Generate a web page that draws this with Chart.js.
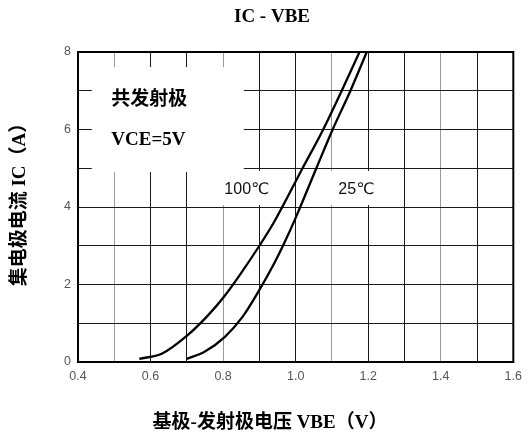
<!DOCTYPE html>
<html>
<head>
<meta charset="utf-8">
<title>IC - VBE</title>
<script src="https://cdn.jsdelivr.net/npm/chart.js@4.4.1/dist/chart.umd.min.js"></script>
<style>
  html, body { margin: 0; padding: 0; background: #fff; }
  #wrap { width: 529px; height: 448px; }
</style>
</head>
<body>
<div id="wrap"><canvas id="ic-vbe" width="529" height="448"></canvas></div>
<script>
// ── DATA ──────────────────────────────────────────────────────────
const vbe100 = [0.569, 0.632, 0.703, 0.759, 0.803, 0.850, 0.900, 0.941, 1.019, 1.076, 1.127, 1.176];
const ic100  = [0.08, 0.22, 0.70, 1.21, 1.69, 2.30, 3.00, 3.62, 5.0, 6.0, 7.0, 8.0];
const vbe25  = [0.700, 0.750, 0.805, 0.854, 0.900, 0.941, 0.968, 1.000, 1.057, 1.102, 1.151, 1.196];
const ic25   = [0.08, 0.27, 0.65, 1.17, 1.86, 2.55, 3.06, 3.72, 5.0, 6.0, 7.0, 8.0];
const seriesLabels = ['100℃', '25℃'];
const xTickLabels = ['0.4', '0.6', '0.8', '1.0', '1.2', '1.4', '1.6'];
const yTickLabels = ['0', '2', '4', '6', '8'];

const SERIF = "'Liberation Serif', 'Noto Sans CJK SC', serif";
const SANS  = "'Liberation Sans', 'DejaVu Sans', sans-serif";

const toPoints = (xs, ys) => xs.map((v, i) => ({ x: v, y: ys[i] }));

// ── NOTES / TITLES (drawn on the chart canvas) ───────────────────
const notesPlugin = {
  id: 'notes',
  beforeDatasetsDraw(chart) {
    const { ctx, scales: { x, y } } = chart;
    // white patches behind the text, in data units [x0, x1, yTop, yBottom]
    const boxes = [[0.438, 0.857, 7.61, 4.90], [0.735, 0.978, 4.93, 4.05], [1.031, 1.276, 4.93, 4.05]];
    ctx.save();
    ctx.fillStyle = '#fff';
    boxes.forEach(b => {
      const l = x.getPixelForValue(b[0]), r = x.getPixelForValue(b[1]);
      const t = y.getPixelForValue(b[2]), btm = y.getPixelForValue(b[3]);
      ctx.fillRect(l, t, r - l, btm - t);
    });
    ctx.restore();
  },
  afterDatasetsDraw(chart) {
    const { ctx, chartArea: a, scales: { x, y } } = chart;
    ctx.save();
    ctx.fillStyle = '#000';
    ctx.textBaseline = 'middle';
    ctx.textAlign = 'left';
    ctx.font = `bold 19px ${SERIF}`;
    ctx.fillText('共发射极', x.getPixelForValue(0.492), y.getPixelForValue(6.77));
    ctx.fillText('VCE=5V', x.getPixelForValue(0.492), y.getPixelForValue(5.73));

    ctx.textAlign = 'center';
    ctx.font = `16px ${SANS}`;
    ctx.fillStyle = '#111';
    ctx.fillText(seriesLabels[0], x.getPixelForValue(0.865), y.getPixelForValue(4.46));
    ctx.fillText(seriesLabels[1], x.getPixelForValue(1.167), y.getPixelForValue(4.46));

    // frame
    ctx.strokeStyle = '#000';
    ctx.lineWidth = 2;
    ctx.strokeRect(a.left, a.top, a.right - a.left, a.bottom - a.top);
    ctx.restore();
  },
  afterDraw(chart) {
    const { ctx } = chart;
    ctx.save();
    ctx.fillStyle = '#000';
    ctx.textAlign = 'center';
    ctx.textBaseline = 'middle';
    ctx.font = `bold 19px ${SERIF}`;
    ctx.fillText('IC - VBE', 272, 17);
    ctx.fillText('基极-发射极电压 VBE（V）', 270, 423);
    ctx.translate(20, 200);
    ctx.rotate(-Math.PI / 2);
    ctx.fillText('集电极电流 IC（A）', 0, 0);
    ctx.restore();
  }
};

// ── CHART ─────────────────────────────────────────────────────────
const lineStyle = {
  showLine: true,
  borderColor: '#000',
  borderWidth: 2.3,
  pointRadius: 0,
  fill: false,
  cubicInterpolationMode: 'monotone',
};

new Chart(document.getElementById('ic-vbe'), {
  type: 'scatter',
  data: {
    datasets: [
      { label: seriesLabels[0], data: toPoints(vbe100, ic100), ...lineStyle },
      { label: seriesLabels[1], data: toPoints(vbe25, ic25), ...lineStyle },
    ],
  },
  options: {
    responsive: false,
    animation: false,
    layout: { padding: { top: 52, left: 0, right: 0, bottom: 0 } },
    plugins: {
      legend: { display: false },
      tooltip: { enabled: false },
    },
    scales: {
      x: {
        type: 'linear',
        min: 0.4, max: 1.6,
        afterFit: s => { s.height = 86; },
        grid: {
          drawTicks: false,
          color: c => (c.index % 3 === 1 ? '#9a9a9a' : '#1a1a1a'),
          lineWidth: 1,
        },
        border: { display: true, color: '#000', width: 2 },
        ticks: {
          stepSize: 0.1,
          autoSkip: false,
          maxRotation: 0,
          padding: 7,
          color: '#555',
          font: { family: SANS, size: 12.5 },
          callback: (v, i) => (i % 2 === 0 ? xTickLabels[i / 2] : ''),
        },
      },
      y: {
        min: 0, max: 8,
        afterFit: s => { s.width = 78; },
        grid: { drawTicks: false, color: '#1a1a1a', lineWidth: 1 },
        border: { display: true, color: '#000', width: 2 },
        ticks: {
          stepSize: 1,
          autoSkip: false,
          padding: 7,
          color: '#555',
          font: { family: SANS, size: 12.5 },
          callback: (v, i) => (i % 2 === 0 ? yTickLabels[i / 2] : ''),
        },
      },
    },
  },
  plugins: [notesPlugin],
});
</script>
</body>
</html>
